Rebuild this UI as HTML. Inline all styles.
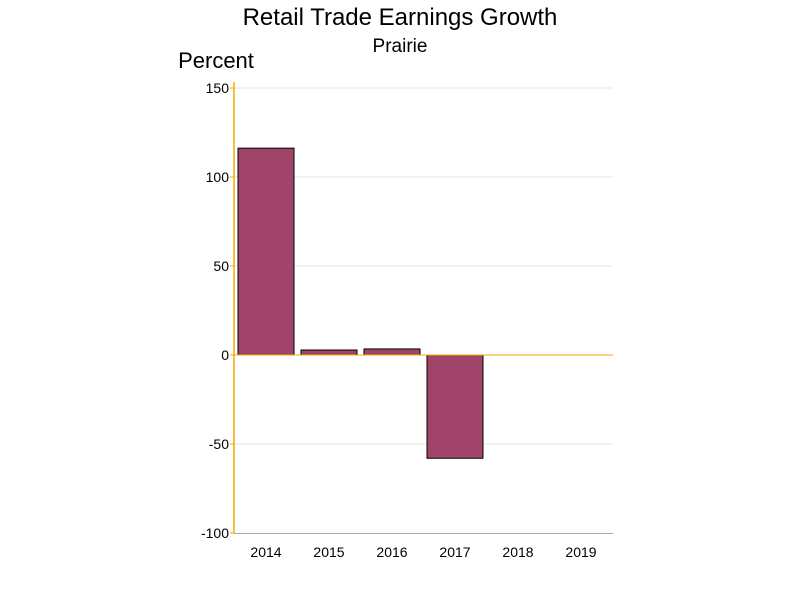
<!DOCTYPE html>
<html><head><meta charset="utf-8"><style>
body{margin:0;background:#fff;font-family:"Liberation Sans",sans-serif}
</style></head><body>
<svg width="800" height="600" viewBox="0 0 800 600">
<text x="400" y="25" font-size="24" text-anchor="middle">Retail Trade Earnings Growth</text>
<text x="400" y="52" font-size="19" text-anchor="middle">Prairie</text>
<text x="216" y="68" font-size="22" text-anchor="middle">Percent</text>
<g id="grid"></g><g id="bars"></g><g id="axes"></g>
</svg>
<script>
const categories=["2014","2015","2016","2017","2018","2019"];
const values=[116.2,2.8,3.4,-58,0,0];
const yTicks=[150,100,50,0,-50,-100];
const ns="http://www.w3.org/2000/svg";
const x0=234,x1=613,pitch=63,bw=56;
function y(v){return 355-v*1.78;}
function xc(i){return x0+4+bw/2+i*pitch;}
function mk(t,a,p){const e=document.createElementNS(ns,t);for(const k in a)e.setAttribute(k,a[k]);p.appendChild(e);return e;}
const g=document.getElementById('grid'),b=document.getElementById('bars'),ax=document.getElementById('axes');
yTicks.forEach(v=>{
 if(v!==0&&v!==-100){const l=mk('line',{x1:x0,x2:x1,y1:y(v),y2:y(v),stroke:'#e4e4e4'},g);
 
 }
 const t=mk('line',{x1:x0-4,x2:x0,y1:y(v),y2:y(v),stroke:'#f5a800'},ax);
 
 
 const tx=mk('text',{x:x0-5,y:y(v)+5,'font-size':14,'text-anchor':'end'},ax);tx.textContent=v;
 
 
});
categories.forEach((c,i)=>{
 const v=values[i];
 if(v!==0){const r=mk('rect',{x:xc(i)-bw/2,width:bw,y:Math.min(y(v),y(0)),height:Math.abs(y(v)-y(0)),fill:'#a0446a',stroke:'#000','stroke-width':1},b);
 
 }
 const t=mk('text',{x:xc(i),y:557,'font-size':14,'text-anchor':'middle'},ax);t.textContent=c;
 
 
});
const z=mk('line',{x1:x0,x2:x1,y1:y(0),y2:y(0),stroke:'#f5a800'},ax);


const xa=mk('line',{x1:x0,x2:x1,y1:533.5,y2:533.5,stroke:'#aaa'},ax);


const ya=mk('line',{x1:x0,x2:x0,y1:82,y2:533,stroke:'#f5a800','stroke-width':1.5},ax);


</script>
</body></html>
